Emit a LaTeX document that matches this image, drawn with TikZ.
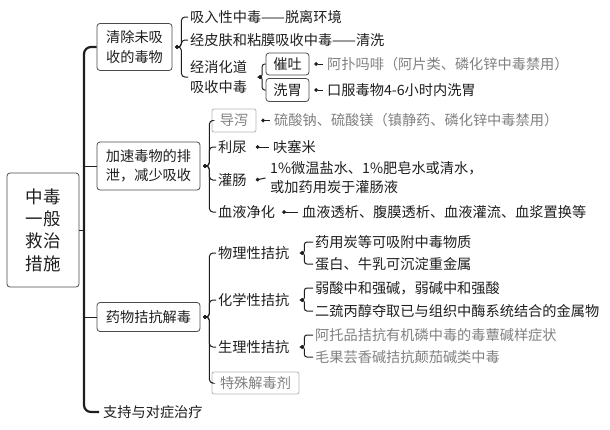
\documentclass[tikz,border=0pt]{standalone}
\usepackage{fontspec}
\setmainfont{Noto Sans CJK SC}
\usetikzlibrary{arrows.meta}
\definecolor{ink}{HTML}{1E1E1E}
\definecolor{pale}{HTML}{808080}
\definecolor{rim}{HTML}{4A4A4A}
\definecolor{palerim}{HTML}{B4B4B4}
\begin{document}
\begin{tikzpicture}[x=1pt,y=-1pt,
   every node/.style={font=\fontsize{14.2}{19.5}\selectfont, text=ink, inner sep=2pt},
   box/.style={draw=rim, rounded corners=3pt, line width=.8pt, align=center},
   greybox/.style={draw=palerim, rounded corners=2pt, line width=.8pt, text=pale},
   item/.style={anchor=west, align=left},
   grey/.style={text=pale},
   fork/.style={draw=ink, line width=1pt, rounded corners=3.5pt, {Circle[length=3.6pt]}-},
   tip/.style={draw=ink, line width=1pt, shorten >=2.5pt, {Circle[length=3.6pt]}-}]
 \useasboundingbox (0,0) rectangle (610,429);
 \node[box, minimum width=72, minimum height=114, font=\fontsize{17.5}{22.3}\selectfont] (root) at (43,230) {中毒\\一般\\救治\\措施};
 \node[box, minimum width=75, minimum height=47] (b1) at (134.5,47) {清除未吸\\收的毒物};
 \node[box, minimum width=103, minimum height=48] (b2) at (148.5,166) {加速毒物的排\\泄，减少吸收};
 \node[box, minimum width=103, minimum height=29] (b3) at (148.5,317) {药物拮抗解毒};
 \node[item, inner sep=4pt] (b4) at (99,412) {支持与对症治疗};
 \coordinate (tk) at (84,230);
 \draw[ink, line width=2.2pt, rounded corners=7pt] (b1.west) -| (tk) |- (b4.west);
 \draw[ink, line width=.6pt] (root) -- (tk);
 \draw[ink, line width=.6pt] (tk |- b2) -- (b2);
 \draw[ink, line width=.6pt] (tk |- b3) -- (b3);

 \node[item] (c11) at (188,17) {吸入性中毒——脱离环境};
 \node[item] (c12) at (188,40) {经皮肤和粘膜吸收中毒——清洗};
 \node[item] (c13) at (188,77) {经消化道\\吸收中毒};
 \foreach \c in {c11,c12,c13}
   \draw[fork] ([xshift=3pt]b1.east) -- ++(6,0) |- (\c.west);
 \node[box, minimum width=43, minimum height=22] (cuitu) at (287.5,64) {催吐};
 \node[box, minimum width=43, minimum height=23] (xiwei) at (287.5,90) {洗胃};
 \foreach \c in {cuitu,xiwei}
   \draw[fork, rounded corners=2.5pt] ([xshift=9pt]c13.east) -- ++(4,0) |- (\c.west);
 \node[item, grey] (apm) at (325,64) {阿扑吗啡（阿片类、磷化锌中毒禁用）};
 \node[item] (kf) at (325,90) {口服毒物4-6小时内洗胃};
 \draw[tip] ([xshift=5pt]cuitu.east) -- (apm.west);
 \draw[tip] ([xshift=5pt]xiwei.east) -- (kf.west);

 \node[greybox, minimum width=44, minimum height=23] (daoxie) at (234,120.5) {导泻};
 \node[item] (liniao) at (216,147) {利尿};
 \node[item] (guanchang) at (216,180) {灌肠};
 \node[item] (xueye) at (216,212) {血液净化};
 \foreach \c in {daoxie,liniao,guanchang,xueye}
   \draw[fork] ([xshift=3pt]b2.east) -- ++(6,0) |- (\c.west);
 \node[item, grey] (sul) at (272,120.5) {硫酸钠、硫酸镁（镇静药、磷化锌中毒禁用）};
 \node[item] (fu) at (271,147) {呋塞米};
 \node[item] (yan) at (268,177.5) {1\%微温盐水、1\%肥皂水或清水，\\或加药用炭于灌肠液};
 \node[item] (tou) at (300,212) {血液透析、腹膜透析、血液灌流、血浆置换等};
 \draw[tip] ([xshift=5pt]daoxie.east) -- (sul.west);
 \draw[tip] ([xshift=7pt]liniao.east) -- (fu.west);
 \draw[tip] ([xshift=7pt]guanchang.east) -- (yan.west);
 \draw[tip] ([xshift=5pt]xueye.east) -- (tou.west);

 \node[item] (wuli) at (216,253) {物理性拮抗};
 \node[item] (huaxue) at (216,300) {化学性拮抗};
 \node[item] (shengli) at (216,347) {生理性拮抗};
 \node[greybox, minimum width=87, minimum height=22] (teshu) at (255.5,383) {特殊解毒剂};
 \foreach \c in {wuli,huaxue,shengli,teshu}
   \draw[fork] ([xshift=3pt]b3.east) -- ++(6,0) |- (\c.west);
 \node[item] (p1) at (313,242) {药用炭等可吸附中毒物质};
 \node[item] (p2) at (313,264) {蛋白、牛乳可沉淀重金属};
 \node[item] (h1) at (313,288) {弱酸中和强碱，弱碱中和强酸};
 \node[item] (h2) at (313,311) {二巯丙醇夺取已与组织中酶系统结合的金属物};
 \node[item, grey] (s1) at (313,335) {阿托品拮抗有机磷中毒的毒蕈碱样症状};
 \node[item, grey] (s2) at (313,357) {毛果芸香碱拮抗颠茄碱类中毒};
 \foreach \a/\c in {wuli/p1,wuli/p2,huaxue/h1,huaxue/h2,shengli/s1,shengli/s2}
   \draw[fork, rounded corners=2.5pt] ([xshift=9pt]\a.east) -- ++(4,0) |- (\c.west);
\end{tikzpicture}
\end{document}
